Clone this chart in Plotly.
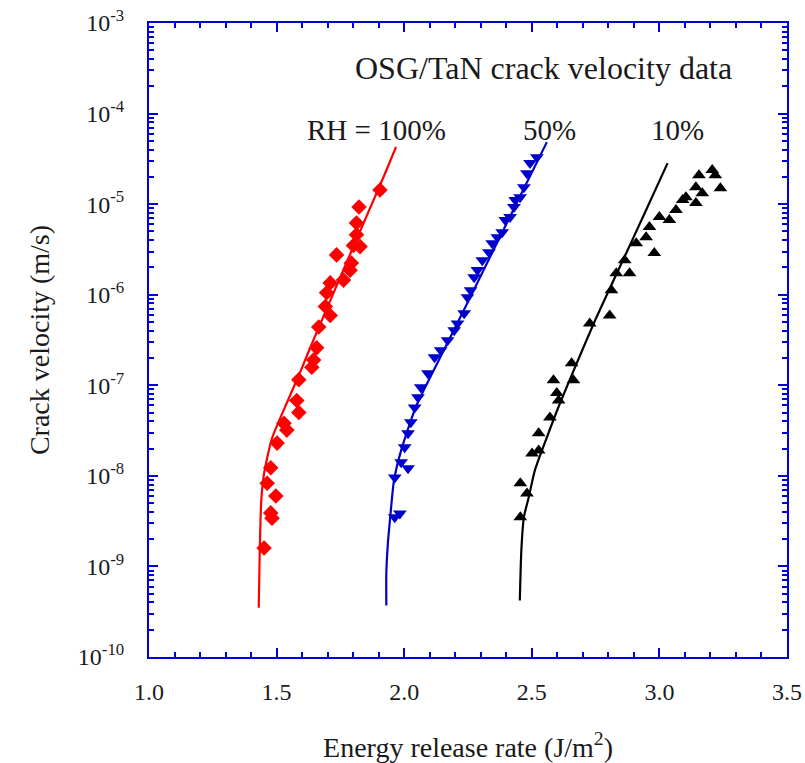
import plotly.graph_objects as go

# ---------------- data ----------------
# RH = 100 % (red diamonds)
rh100_G = [1.905, 1.823, 1.813, 1.813, 1.827, 1.801, 1.735, 1.793, 1.788, 1.762,
           1.710, 1.696, 1.691, 1.710, 1.665, 1.657, 1.645, 1.638, 1.587, 1.579,
           1.587, 1.529, 1.540, 1.502, 1.477, 1.463, 1.497, 1.477, 1.482, 1.451]
rh100_v = [1.43e-5, 9.3e-6, 6.2e-6, 4.6e-6, 3.4e-6, 3.5e-6, 2.75e-6, 2.24e-6, 1.86e-6, 1.45e-6,
           1.35e-6, 1.05e-6, 7.4e-7, 5.9e-7, 4.4e-7, 2.6e-7, 1.9e-7, 1.58e-7, 1.15e-7, 6.8e-8,
           5.0e-8, 3.8e-8, 3.2e-8, 2.3e-8, 1.23e-8, 8.3e-9, 6.0e-9, 3.9e-9, 3.4e-9, 1.6e-9]
rh100_fit_G = [1.968, 1.924, 1.859, 1.769, 1.634, 1.599, 1.548, 1.482, 1.451, 1.440, 1.434, 1.430]
rh100_fit_v = [4.27e-5, 2.15e-5, 8.1e-6, 2.1e-6, 2.7e-7, 1.55e-7, 7.2e-8, 2.6e-8, 1.07e-8,
               5.4e-9, 1.51e-9, 3.5e-10]

# RH = 50 % (blue down-triangles)
rh50_G = [2.520, 2.493, 2.481, 2.469, 2.454, 2.435, 2.430, 2.415, 2.396, 2.384,
          2.365, 2.345, 2.332, 2.306, 2.287, 2.274, 2.260, 2.248, 2.235, 2.209,
          2.196, 2.170, 2.143, 2.119, 2.093, 2.065, 2.054, 2.041, 2.026, 2.015,
          2.002, 1.988, 2.015, 1.963, 1.983, 1.963]
rh50_v = [3.3e-5, 2.84e-5, 2.2e-5, 1.54e-5, 1.19e-5, 1.11e-5, 9.3e-6, 7.2e-6, 6.7e-6, 4.9e-6,
          4.3e-6, 3.7e-6, 2.95e-6, 2.4e-6, 1.87e-6, 1.56e-6, 1.12e-6, 9.4e-7, 6.25e-7, 4.8e-7,
          4.05e-7, 3.15e-7, 2.44e-7, 2.04e-7, 1.36e-7, 9.5e-8, 7.4e-8, 5.7e-8, 3.9e-8, 2.95e-8,
          2.07e-8, 1.41e-8, 1.21e-8, 9.6e-9, 3.85e-9, 3.5e-9]
rh50_fit_G = [2.559, 2.454, 2.345, 2.233, 2.131, 2.046, 1.988, 1.960, 1.944, 1.937, 1.930, 1.930]
rh50_fit_v = [4.84e-5, 1.22e-5, 2.92e-6, 6.7e-7, 1.78e-7, 5.8e-8, 1.91e-8, 8.9e-9, 3.2e-9,
              1.95e-9, 8.5e-10, 3.7e-10]

# RH = 10 % (black up-triangles)
rh10_G = [2.455, 2.455, 2.481, 2.501, 2.527, 2.527, 2.571, 2.605, 2.598, 2.585,
          2.663, 2.656, 2.727, 2.805, 2.812, 2.831, 2.864, 2.883, 2.909, 2.948,
          2.980, 2.961, 3.000, 3.039, 3.065, 3.091, 3.104, 3.143, 3.143, 3.155,
          3.168, 3.207, 3.219, 3.239]
rh10_v = [3.5e-9, 8.3e-9, 6.4e-9, 1.77e-8, 1.91e-8, 2.95e-8, 4.4e-8, 6.8e-8, 8.2e-8, 1.14e-7,
          1.14e-7, 1.75e-7, 4.8e-7, 5.9e-7, 1.12e-6, 1.73e-6, 2.4e-6, 1.73e-6, 3.7e-6, 4.3e-6,
          2.88e-6, 5.6e-6, 7.2e-6, 6.7e-6, 8.6e-6, 1.11e-5, 1.19e-5, 1.03e-5, 1.54e-5, 2.09e-5,
          1.32e-5, 2.38e-5, 2.09e-5, 1.5e-5]
rh10_fit_G = [3.032, 2.948, 2.857, 2.753, 2.676, 2.610, 2.559, 2.512, 2.488, 2.469, 2.459, 2.453]
rh10_fit_v = [2.84e-5, 8.6e-6, 2.4e-6, 5.6e-7, 1.75e-7, 6.3e-8, 2.66e-8, 1.15e-8, 5.8e-9,
              3.5e-9, 1.5e-9, 4.2e-10]

x_ticks = [1.0, 1.5, 2.0, 2.5, 3.0, 3.5]
x_ticktext = ["1.0", "1.5", "2.0", "2.5", "3.0", "3.5"]
y_exponents = [-10, -9, -8, -7, -6, -5, -4, -3]

# ---------------- figure ----------------
FONT = "Liberation Serif, Times New Roman, serif"
AXIS_BLUE = "#0000dd"
TEXT = "#1a1a1a"

fig = go.Figure()

for G, v, col, sym in [(rh100_G, rh100_v, "#ff0000", "diamond"),
                       (rh50_G, rh50_v, "#0000cc", "triangle-down"),
                       (rh10_G, rh10_v, "#000000", "triangle-up")]:
    fig.add_trace(go.Scatter(x=G, y=v, mode="markers",
                             marker=dict(symbol=sym, size=12, color=col, line=dict(width=0)),
                             showlegend=False))

for G, v, col in [(rh100_fit_G, rh100_fit_v, "#ff0000"),
                  (rh50_fit_G, rh50_fit_v, "#0000cc"),
                  (rh10_fit_G, rh10_fit_v, "#000000")]:
    fig.add_trace(go.Scatter(x=G, y=v, mode="lines",
                             line=dict(color=col, width=2.2, shape="spline", smoothing=0.6),
                             showlegend=False))

axis_common = dict(showline=True, linecolor=AXIS_BLUE, linewidth=2, mirror="ticks",
                   ticks="inside", tickcolor=AXIS_BLUE, tickwidth=2, ticklen=9,
                   showgrid=False, zeroline=False, automargin=False,
                   ticklabeloverflow="allow",
                   tickfont=dict(family=FONT, size=24, color=TEXT))

fig.update_xaxes(range=[1.0, 3.5], tickvals=x_ticks, ticktext=x_ticktext,
                 minor=dict(ticks="inside", dtick=0.1, ticklen=5, tickwidth=1.5,
                            tickcolor=AXIS_BLUE, showgrid=False),
                 title=dict(text="Energy release rate (J/m<sup>2</sup>)",
                            font=dict(family=FONT, size=28, color=TEXT), standoff=34),
                 ticklabelstandoff=12,
                 **axis_common)

fig.update_yaxes(type="log", range=[-10, -3],
                 tickvals=[10.0 ** e for e in y_exponents],
                 ticktext=[f"10<sup>{e}</sup>" for e in y_exponents],
                 minor=dict(ticks="inside", dtick="D1", ticklen=5, tickwidth=1.5,
                            tickcolor=AXIS_BLUE, showgrid=False),
                 title=dict(text="Crack velocity (m/s)",
                            font=dict(family=FONT, size=28, color=TEXT), standoff=20),
                 ticklabelstandoff=18,
                 **axis_common)

ann_font = dict(family=FONT, size=29, color=TEXT)
fig.add_annotation(x=2.545, y=-3.5, xref="x", yref="y", text="OSG/TaN crack velocity data",
                   showarrow=False, font=dict(family=FONT, size=32, color=TEXT))
fig.add_annotation(x=1.89, y=-4.18, xref="x", yref="y", text="RH = 100%",
                   showarrow=False, font=ann_font)
fig.add_annotation(x=2.57, y=-4.18, xref="x", yref="y", text="50%",
                   showarrow=False, font=ann_font)
fig.add_annotation(x=3.07, y=-4.18, xref="x", yref="y", text="10%",
                   showarrow=False, font=ann_font)

fig.update_layout(width=805, height=763,
                  margin=dict(l=149, r=18, t=23, b=106),
                  plot_bgcolor="white", paper_bgcolor="white",
                  font=dict(family=FONT))

fig.write_html("out.html", config={"displayModeBar": False},
               post_script="document.body.style.margin='0';document.body.style.padding='0';")
